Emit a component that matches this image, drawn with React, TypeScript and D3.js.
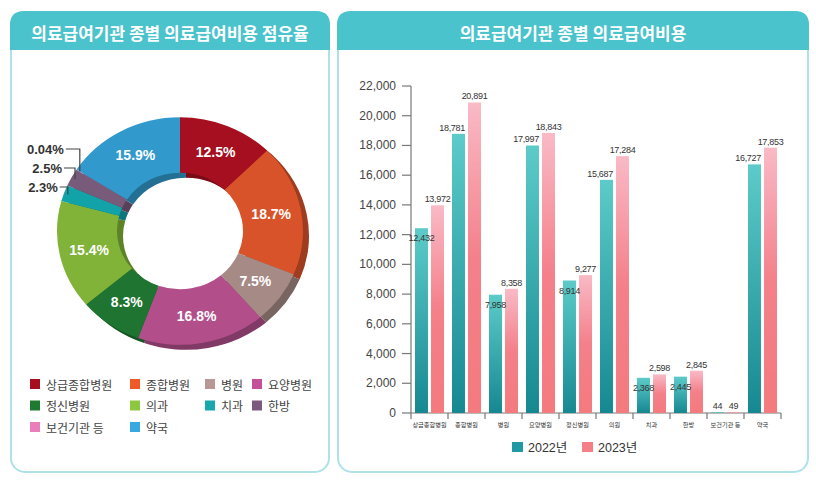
import React from "react";
import * as d3 from "d3";

// ---- data ----
const shareLabels = ["상급종합병원", "종합병원", "병원", "요양병원", "정신병원", "의과", "치과", "한방", "보건기관 등", "약국"];
const shareValues = [12.5, 18.7, 7.5, 16.8, 8.3, 15.4, 2.3, 2.5, 0.04, 15.9];
const shareText = ["12.5%", "18.7%", "7.5%", "16.8%", "8.3%", "15.4%", "2.3%", "2.5%", "0.04%", "15.9%"];
const sliceColors = ["#a50f1f", "#d9532a", "#a68a86", "#b24f8b", "#1e7430", "#80b337", "#11a3a8", "#785a7a", "#e07ab4", "#3299cc"];
const legendColors = ["#a50f1f", "#f05a28", "#b99794", "#c4509a", "#1e7a30", "#8dc63f", "#17a8ab", "#7b5a7d", "#e87fbc", "#37a9e0"];

const categories = ["상급종합병원", "종합병원", "병원", "요양병원", "정신병원", "의원", "치과", "한방", "보건기관 등", "약국"];
const values2022 = [12432, 18781, 7958, 17997, 8914, 15687, 2368, 2445, 44, 16727];
const values2023 = [13972, 20891, 8358, 18843, 9277, 17284, 2598, 2845, 49, 17853];
const seriesNames = ["2022년", "2023년"];
const yTicks = [0, 2000, 4000, 6000, 8000, 10000, 12000, 14000, 16000, 18000, 20000, 22000];
// categories whose 2022 label sits inside the bar top
const insideLabelCats = ["상급종합병원", "병원", "정신병원", "치과", "한방"];
const outsideShareOrder = [8, 7, 6];

const HEADER = "#4ac3cc";
const BORDER = "#ade2e8";
const FONT_KR = "'Noto Sans CJK KR', 'Noto Sans', sans-serif";
const FONT_NUM = "'Liberation Sans', Arial, 'Noto Sans CJK KR', sans-serif";

function topRounded(x: number, y: number, w: number, h: number, r: number) {
  return `M${x},${y + h} L${x},${y + r} Q${x},${y} ${x + r},${y} L${x + w - r},${y} Q${x + w},${y} ${x + w},${y + r} L${x + w},${y + h} Z`;
}

export default function App() {
  // ---------- donut ----------
  const cx = 180, cy = 231, sy = 0.925;
  const rOuter = 123, rInner = 63;
  const pie = d3.pie<number>().sort(null).value((d) => d);
  const arcs = pie(shareValues);
  const arc = d3.arc<d3.PieArcDatum<number>>().innerRadius(rInner).outerRadius(rOuter);
  const midArc = d3.arc<d3.PieArcDatum<number>>().innerRadius((rInner + rOuter) / 2).outerRadius((rInner + rOuter) / 2);
  const edgeArc = d3.arc<d3.PieArcDatum<number>>().innerRadius(rOuter - 4).outerRadius(rOuter - 4);

  // ---------- bars ----------
  const x = d3.scaleBand<string>().domain(categories).range([411, 781]);
  const xi = d3.scaleBand<string>().domain(seriesNames).range([0, x.bandwidth()]).paddingInner(0.19).paddingOuter(0.25);
  const y = d3.scaleLinear().domain([0, 22000]).range([413, 86]);
  const fmt = d3.format(",");
  const series = [values2022, values2023];

  return (
    <svg width={816} height={489} style={{ position: "absolute", left: 0, top: 0, background: "#fff" }}>
      <defs>
        <linearGradient id="gTeal" x1="0" y1="0" x2="0" y2="1">
          <stop offset="0%" stopColor="#5ccbc9" />
          <stop offset="100%" stopColor="#168891" />
        </linearGradient>
        <linearGradient id="gPink" x1="0" y1="0" x2="0" y2="1">
          <stop offset="0%" stopColor="#f9bac6" />
          <stop offset="50%" stopColor="#f4808a" />
          <stop offset="100%" stopColor="#f47a7e" />
        </linearGradient>
      </defs>

      {/* panels */}
      <rect x={11} y={12} width={318} height={460} rx={14} fill="#fff" stroke={BORDER} strokeWidth={2} />
      <path d={topRounded(10, 11, 320, 39, 14)} fill={HEADER} />
      <text x={170} y={32} textAnchor="middle" dominantBaseline="central" fill="#fff" fontSize={17} fontWeight={700} fontFamily={FONT_KR}>
        의료급여기관 종별 의료급여비용 점유율
      </text>

      <rect x={338} y={12} width={470} height={460} rx={14} fill="#fff" stroke={BORDER} strokeWidth={2} />
      <path d={topRounded(337, 11, 472, 39, 14)} fill={HEADER} />
      <text x={573} y={32} textAnchor="middle" dominantBaseline="central" fill="#fff" fontSize={17} fontWeight={700} fontFamily={FONT_KR}>
        의료급여기관 종별 의료급여비용
      </text>

      {/* donut shadow + donut */}
      <g transform={`translate(${cx + 6},${cy + 5}) scale(1,${sy})`}>
        {arcs.map((a, i) => (
          <path key={i} d={arc(a) || ""} fill={d3.color(sliceColors[i])!.darker(0.9).toString()} />
        ))}
      </g>
      <g transform={`translate(${cx},${cy}) scale(1,${sy})`}>
        {arcs.map((a, i) => (
          <path key={i} d={arc(a) || ""} fill={sliceColors[i]} />
        ))}
      </g>
      {arcs.map((a, i) => {
        if (shareValues[i] < 5) return null;
        const [px, py] = midArc.centroid(a);
        return (
          <text key={i} x={cx + px} y={cy + py * sy} textAnchor="middle" dominantBaseline="central" fill="#fff" fontSize={14} fontWeight={700} fontFamily={FONT_NUM}>
            {shareText[i]}
          </text>
        );
      })}
      {outsideShareOrder.map((idx, k) => {
        const [ex, ey0] = edgeArc.centroid(arcs[idx]);
        const ax = cx + ex, ay = cy + ey0 * sy;
        const ly = 149 + k * 19;
        const hl = 14 - k * 3;
        return (
          <g key={idx}>
            <path d={`M${ax - hl},${ly} L${ax},${ly} L${ax},${ay}`} fill="none" stroke="#444" strokeWidth={1.2} />
            <text x={ax - hl - 2} y={ly} textAnchor="end" dominantBaseline="central" fill="#333" fontSize={13} fontWeight={600} fontFamily={FONT_NUM}>
              {shareText[idx]}
            </text>
          </g>
        );
      })}

      {/* donut legend */}
      {shareLabels.map((name, i) => {
        const colX = [30, 130, 205, 252];
        const row = i < 4 ? 0 : i < 8 ? 1 : 2;
        const col = i < 8 ? i % 4 : i - 8;
        const lx = colX[col], ly = 384 + row * 21.5;
        return (
          <g key={name}>
            <rect x={lx} y={ly - 5} width={10} height={10} fill={legendColors[i]} />
            <text x={lx + 16} y={ly} dominantBaseline="central" fill="#444" fontSize={12} fontFamily={FONT_KR}>
              {name}
            </text>
          </g>
        );
      })}

      {/* bar chart: y axis */}
      <line x1={411} x2={411} y1={y(22000)} y2={y(0)} stroke="#777" strokeWidth={1.2} />
      {yTicks.map((t) => (
        <g key={t}>
          <line x1={402} x2={411} y1={y(t)} y2={y(t)} stroke="#777" strokeWidth={1.2} />
          <text x={396} y={y(t)} textAnchor="end" dominantBaseline="central" fill="#444" fontSize={12} fontFamily={FONT_NUM}>
            {fmt(t)}
          </text>
        </g>
      ))}
      {/* x axis */}
      <line x1={411} x2={781} y1={y(0)} y2={y(0)} stroke="#777" strokeWidth={1.2} />
      {[...categories.map((c) => x(c)!), 781].map((bx, i) => (
        <line key={i} x1={bx} x2={bx} y1={y(0)} y2={y(0) + 6} stroke="#777" strokeWidth={1.2} />
      ))}
      {categories.map((c) => (
        <text key={c} x={x(c)! + x.bandwidth() / 2} y={424} textAnchor="middle" dominantBaseline="central" fill="#333" fontSize={6.2} fontFamily={FONT_KR}>
          {c}
        </text>
      ))}

      {/* bars */}
      {categories.map((c, ci) =>
        series.map((vals, si) => {
          const bx = x(c)! + xi(seriesNames[si])!;
          const bw = xi.bandwidth();
          const top = y(vals[ci]);
          return (
            <rect key={c + si} x={bx} y={top} width={bw} height={y(0) - top} fill={si === 0 ? "url(#gTeal)" : "url(#gPink)"} />
          );
        })
      )}
      {/* value labels */}
      {categories.map((c, ci) =>
        series.map((vals, si) => {
          const bx = x(c)! + xi(seriesNames[si])!;
          const bw = xi.bandwidth();
          const top = y(vals[ci]);
          const inside = si === 0 && insideLabelCats.includes(c);
          let tx = bx + bw / 2, anchor: "middle" | "end" = "middle", ty = top - 6;
          if (si === 0 && !inside && vals[ci] > 1000) { tx = bx + bw; anchor = "end"; }
          if (inside) ty = top + 10;
          return (
            <text key={c + si} x={tx} y={ty} textAnchor={anchor} dominantBaseline="central" fill="#333" fontSize={9} letterSpacing={-0.3} fontFamily={FONT_NUM}>
              {fmt(vals[ci])}
            </text>
          );
        })
      )}

      {/* bar legend */}
      {seriesNames.map((s, i) => (
        <g key={s}>
          <rect x={512 + i * 70} y={442} width={11} height={10} fill={i === 0 ? "#1f9aa3" : "#f47f86"} />
          <text x={528 + i * 70} y={447.5} dominantBaseline="central" fill="#333" fontSize={12.5} fontFamily={FONT_NUM}>
            {s}
          </text>
        </g>
      ))}
    </svg>
  );
}
